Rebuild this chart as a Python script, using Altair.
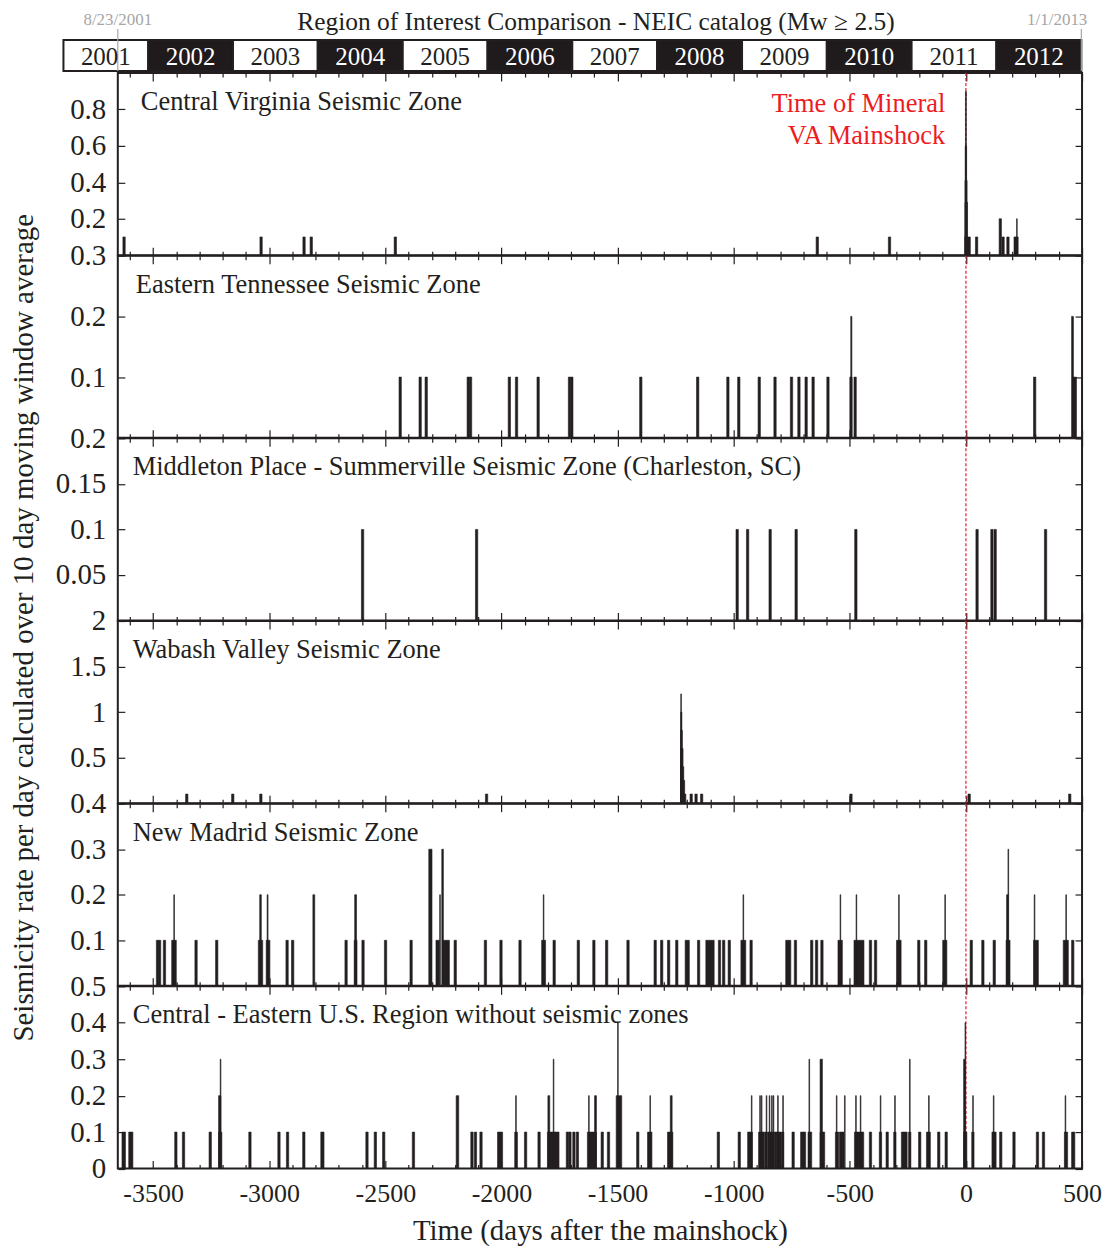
import datetime as dt
import altair as alt
import pandas as pd

FONT = "Liberation Serif"
INK = "#231f20"
RED = "#ed1c24"
GRAY = "#a6a6a6"

X_MIN, X_MAX = -3652, 500
PLOT_W = 966
PANEL_H = 182.5
BAR_H = 31
BAR_DAYS = 10

panel_names = [
    "Central Virginia Seismic Zone",
    "Eastern Tennessee Seismic Zone",
    "Middleton Place - Summerville Seismic Zone (Charleston, SC)",
    "Wabash Valley Seismic Zone",
    "New Madrid Seismic Zone",
    "Central - Eastern U.S. Region without seismic zones",
]
name_dx = [23, 18, 15, 15, 15, 15]
panel_ymax = [1.0, 0.3, 0.2, 2.0, 0.4, 0.5]
panel_yticks = [
    [0.2, 0.4, 0.6, 0.8],
    [0.1, 0.2, 0.3],
    [0.05, 0.1, 0.15, 0.2],
    [0.5, 1, 1.5, 2],
    [0.1, 0.2, 0.3, 0.4],
    [0, 0.1, 0.2, 0.3, 0.4, 0.5],
]
x_ticks = list(range(-3600, 501, 100))

# (start day, rate[, window width in days])
cv_bars = [
    (-3630, 0.1), (-3040, 0.1), (-2855, 0.1), (-2824, 0.1), (-2462, 0.1),
    (-645, 0.1), (-334, 0.1),
    (-2, 0.9, 4), (-3, 0.6, 6), (-4, 0.41, 9), (-4, 0.29, 11), (-5, 0.1, 24),
    (41, 0.1), (143, 0.2), (155, 0.1), (176, 0.1), (207, 0.1), (215, 0.1), (218, 0.2, 3),
]
et_bars = [
    (-2441, 0.1), (-2355, 0.1), (-2329, 0.1), (-2148, 0.1), (-2138, 0.1),
    (-1971, 0.1), (-1940, 0.1), (-1847, 0.1), (-1712, 0.1), (-1702, 0.1),
    (-1405, 0.1), (-1160, 0.1), (-1030, 0.1), (-983, 0.1), (-895, 0.1),
    (-827, 0.1), (-756, 0.1), (-724, 0.1), (-693, 0.1), (-663, 0.1),
    (-599, 0.1), (-500, 0.1), (-496, 0.2, 5), (-482, 0.1),
    (291, 0.1), (455, 0.2, 8), (460, 0.1, 16),
]
mp_bars = [
    (-2603, 0.1), (-2112, 0.1), (-990, 0.1), (-945, 0.1), (-848, 0.1),
    (-736, 0.1), (-479, 0.1), (43, 0.1), (107, 0.1), (121, 0.1), (338, 0.1),
]
wv_bars = [
    (-3360, 0.1), (-3162, 0.1), (-3041, 0.1), (-2069, 0.1),
    (-1228, 1.2, 3), (-1228, 1.0, 5), (-1228, 0.8, 7), (-1228, 0.6, 10),
    (-1228, 0.4, 13), (-1228, 0.25, 17), (-1228, 0.1, 22),
    (-1188, 0.1), (-1167, 0.1), (-1143, 0.1), (-500, 0.1), (9, 0.1), (442, 0.1),
]
nm_bars = [
    (-3486, 0.1), (-3477, 0.1), (-3456, 0.1), (-3420, 0.1), (-3410, 0.1), (-3411, 0.2, 3),
    (-3320, 0.1), (-3231, 0.1), (-3047, 0.1, 19), (-3041, 0.2, 7),
    (-3013, 0.1, 16), (-3009, 0.2, 4), (-2928, 0.1), (-2904, 0.1), (-2812, 0.2, 8),
    (-2674, 0.1), (-2634, 0.1, 12), (-2632, 0.2, 8), (-2601, 0.1), (-2504, 0.1),
    (-2394, 0.1), (-2313, 0.3, 14), (-2282, 0.1, 15), (-2266, 0.2, 3),
    (-2257, 0.3, 7), (-2253, 0.1, 29), (-2204, 0.1), (-2074, 0.1), (-2007, 0.1),
    (-1925, 0.1), (-1827, 0.1, 17), (-1820, 0.2, 3), (-1778, 0.1), (-1674, 0.1),
    (-1607, 0.1), (-1552, 0.1), (-1460, 0.1), (-1343, 0.1), (-1315, 0.1),
    (-1285, 0.1), (-1250, 0.1), (-1209, 0.1, 18), (-1156, 0.1), (-1120, 0.1, 36),
    (-1066, 0.1), (-1048, 0.1), (-1024, 0.1), (-969, 0.1, 21), (-960, 0.2, 3),
    (-930, 0.1), (-776, 0.1, 22), (-739, 0.1), (-669, 0.1), (-648, 0.1),
    (-625, 0.1), (-551, 0.1, 19), (-542, 0.2, 3), (-482, 0.1, 43), (-473, 0.2, 3),
    (-416, 0.1), (-394, 0.1), (-299, 0.1, 20), (-290, 0.2, 3), (-208, 0.1),
    (-178, 0.1), (-100, 0.1, 18), (-91, 0.2, 3), (18, 0.1), (68, 0.1), (117, 0.1),
    (173, 0.1, 17), (175, 0.2, 7), (181, 0.3, 3), (291, 0.1, 21), (294, 0.2, 3),
    (419, 0.1, 22), (430, 0.2, 3), (455, 0.1),
]
ce_bars = [
    (-3634, 0.1, 15), (-3605, 0.1, 18), (-3407, 0.1), (-3374, 0.1), (-3259, 0.1),
    (-3218, 0.1, 14), (-3218, 0.2, 10), (-3211, 0.3, 3), (-3088, 0.1), (-2963, 0.1),
    (-2926, 0.1), (-2856, 0.1), (-2778, 0.1, 14), (-2584, 0.1), (-2548, 0.1),
    (-2512, 0.1), (-2384, 0.1), (-2195, 0.2, 11), (-2132, 0.1), (-2117, 0.1),
    (-2093, 0.1), (-2017, 0.1, 22), (-1943, 0.1, 12), (-1939, 0.2, 3), (-1901, 0.1),
    (-1843, 0.1), (-1802, 0.1, 50), (-1800, 0.2, 8), (-1777, 0.3, 3), (-1721, 0.1),
    (-1710, 0.1), (-1693, 0.1), (-1678, 0.1), (-1630, 0.1, 39), (-1625, 0.2, 3),
    (-1599, 0.2, 8), (-1571, 0.1), (-1544, 0.1), (-1506, 0.2, 24), (-1500, 0.4, 3),
    (-1418, 0.1), (-1371, 0.1, 19), (-1361, 0.2, 3), (-1285, 0.1, 23), (-1273, 0.2, 8),
    (-1071, 0.1), (-981, 0.1), (-940, 0.1, 21), (-924, 0.2, 3), (-893, 0.1, 24),
    (-888, 0.2, 3), (-881, 0.2, 3), (-867, 0.1), (-855, 0.1), (-845, 0.1),
    (-835, 0.1), (-824, 0.1), (-815, 0.1), (-805, 0.1), (-794, 0.1),
    (-860, 0.2, 3), (-847, 0.2, 3), (-837, 0.2, 3), (-830, 0.2, 3), (-811, 0.2, 3),
    (-789, 0.2, 3), (-749, 0.1), (-712, 0.1, 22), (-680, 0.1), (-676, 0.3, 3),
    (-674, 0.1), (-628, 0.1, 20), (-628, 0.3, 10), (-562, 0.1, 14), (-558, 0.2, 3),
    (-545, 0.1, 20), (-523, 0.2, 3), (-480, 0.1, 40), (-475, 0.2, 3), (-455, 0.2, 3),
    (-416, 0.1), (-373, 0.1), (-369, 0.2, 3), (-344, 0.1), (-311, 0.1), (-307, 0.2, 3),
    (-278, 0.1, 25), (-247, 0.1), (-243, 0.3, 3), (-204, 0.1), (-170, 0.1, 17),
    (-161, 0.2, 3), (-122, 0.1), (-90, 0.1), (-10, 0.1, 14), (-10, 0.3, 6),
    (-4, 0.4, 3), (25, 0.1), (29, 0.2, 3), (112, 0.1, 18), (118, 0.2, 3),
    (145, 0.1), (202, 0.1), (303, 0.1), (329, 0.1), (424, 0.1, 14), (427, 0.2, 3),
    (455, 0.1, 14),
]
all_bars = [cv_bars, et_bars, mp_bars, wv_bars, nm_bars, ce_bars]

mainshock_day = [0]
mainshock_note = "Time of Mineral\nVA Mainshock"

# calendar bar
ref_date = dt.date(2011, 8, 23)
years = list(range(2001, 2013))
year_start = [(dt.date(y, 1, 1) - ref_date).days for y in years]
year_end = [(dt.date(y + 1, 1, 1) - ref_date).days for y in years]
month_ticks = []
for y in range(2001, 2014):
    for m in range(1, 13):
        d = dt.date(y, m, 1)
        if dt.date(2001, 9, 1) <= d <= dt.date(2013, 1, 1):
            month_ticks.append((d - ref_date).days)
range_dates = ["8/23/2001", "1/1/2013"]
range_days = [(dt.date(2001, 8, 23) - ref_date).days, (dt.date(2013, 1, 1) - ref_date).days]

X_TICK_EXPR = "datum.value % 500 === 0 ? -8 : -4"
Y_TICK_EXPR = "-7"
LABEL_FS = 29
XLABEL_FS = 26
NAME_FS = 26.5


def panel(i):
    rows = [(b[0], b[1], b[2] if len(b) > 2 else BAR_DAYS) for b in all_bars[i]]
    df = pd.DataFrame(rows, columns=["day", "rate", "w"])
    df["end"] = df["day"] + df["w"]
    last = i == len(all_bars) - 1
    xs = alt.Scale(domain=[X_MIN, X_MAX], nice=False, zero=False)
    ys = alt.Scale(domain=[0, panel_ymax[i]], nice=False, zero=True)

    bkw = dict(orient="bottom", values=x_ticks, tickSize={"expr": X_TICK_EXPR},
               labels=last, labelFlush=False, labelOverlap=False)
    if last:
        bkw.update(labelExpr="datum.value % 500 === 0 ? '' + datum.value : ''",
                   labelPadding=20, titlePadding=6, labelFontSize=XLABEL_FS)
    xtitle = "Time (days after the mainshock)" if last else None

    bars = alt.Chart(df).mark_rect(color=INK, stroke=INK, strokeWidth=0.6, clip=True).encode(
        x=alt.X("day:Q", scale=xs, axis=alt.Axis(**bkw), title=xtitle),
        x2="end:Q",
        y=alt.Y("rate:Q", scale=ys, title=None,
                axis=alt.Axis(orient="left", values=panel_yticks[i], format="~g",
                              tickSize={"expr": Y_TICK_EXPR}, labelPadding=19,
                              labelOverlap=False, labelFlush=False)),
        y2=alt.datum(0),
    )
    ghost = alt.Chart(df).mark_point(opacity=0).encode(
        x=alt.X("day:Q", scale=xs, title=None,
                axis=alt.Axis(orient="top", values=x_ticks, labels=False,
                              tickSize={"expr": X_TICK_EXPR})),
        y=alt.Y("rate:Q", scale=ys, title=None,
                axis=alt.Axis(orient="right", values=panel_yticks[i], labels=False,
                              tickSize={"expr": Y_TICK_EXPR})),
    )
    rule = alt.Chart(pd.DataFrame({"day": mainshock_day})).mark_rule(
        color=RED, strokeDash=[3, 2], strokeWidth=1.2
    ).encode(
        x=alt.X("day:Q", scale=xs, axis=None),
        y=alt.value(0), y2=alt.value(PANEL_H),
    )
    name = alt.Chart(pd.DataFrame({"t": [panel_names[i]]})).mark_text(
        align="left", baseline="middle", font=FONT, fontSize=NAME_FS, color=INK
    ).encode(x=alt.value(name_dx[i]), y=alt.value(29), text="t:N")
    layers = [rule, bars, ghost, name]
    if i == 0:
        note = alt.Chart(pd.DataFrame({"t": [mainshock_note]})).mark_text(
            align="right", baseline="middle", font=FONT, fontSize=NAME_FS, color=RED,
            lineBreak="\n", lineHeight=32
        ).encode(x=alt.value(829), y=alt.value(31), text="t:N")
        layers.append(note)
    return alt.layer(*layers).resolve_axis(x="independent", y="independent").properties(
        width=PLOT_W, height=PANEL_H
    )


# calendar strip
ydf = pd.DataFrame({"year": years, "start": year_start, "end": year_end})
ydf["mid"] = (ydf["start"] + ydf["end"]) / 2
ydf["dark"] = ydf["year"] % 2 == 0
ydf["label"] = ydf["year"].astype(str)
ys_cal = alt.Scale(domain=[X_MIN, X_MAX], nice=False, zero=False)
year_tick_expr = "indexof([" + ",".join(str(v) for v in year_start[1:] + [range_days[1]]) + "], datum.value) >= 0 ? 7 : 4"

boxes = alt.Chart(ydf).mark_rect(stroke=INK, strokeWidth=2).encode(
    x=alt.X("start:Q", scale=ys_cal, title=None,
            axis=alt.Axis(orient="top", values=month_ticks, labels=False, domain=False,
                          tickSize={"expr": year_tick_expr}, tickWidth=1)),
    x2="end:Q",
    y=alt.value(0), y2=alt.value(BAR_H),
    fill=alt.condition("datum.dark", alt.value("#1f1a1b"), alt.value("white")),
)
year_txt = alt.Chart(ydf).mark_text(font=FONT, fontSize=25, baseline="middle").encode(
    x=alt.X("mid:Q", scale=ys_cal, axis=None),
    y=alt.value(BAR_H / 2 + 1),
    text="label:N",
    color=alt.condition("datum.dark", alt.value("white"), alt.value(INK)),
)
rdf = pd.DataFrame({"day": range_days, "lab": range_dates})
gray_rules = alt.Chart(rdf).mark_rule(color=GRAY, strokeWidth=1.2).encode(
    x=alt.X("day:Q", scale=ys_cal, axis=None),
    y=alt.value(-11), y2=alt.value(BAR_H),
)
gray_left = alt.Chart(rdf.iloc[[0]]).mark_text(font=FONT, fontSize=17, color=GRAY, align="center",
                                              baseline="middle").encode(
    x=alt.X("day:Q", scale=ys_cal, axis=None), y=alt.value(-20), text="lab:N")
gray_right = alt.Chart(rdf.iloc[[1]]).mark_text(font=FONT, fontSize=17, color=GRAY, align="right",
                                               baseline="middle", dx=6).encode(
    x=alt.X("day:Q", scale=ys_cal, axis=None), y=alt.value(-20), text="lab:N")
title_txt = alt.Chart(pd.DataFrame({"t": ["Region of Interest Comparison - NEIC catalog (Mw \u2265 2.5)"]})).mark_text(
    font=FONT, fontSize=25.5, color=INK, align="center", baseline="middle"
).encode(x=alt.value(479), y=alt.value(-18), text="t:N")

calendar = alt.layer(boxes, gray_rules, year_txt, gray_left, gray_right, title_txt).properties(
    width=PLOT_W, height=BAR_H, view=alt.ViewBackground(stroke="transparent")
)

stack = alt.vconcat(*[panel(i) for i in range(6)], spacing=0, bounds="flush").resolve_scale(
    x="independent", y="independent")

chart = alt.vconcat(
    calendar, stack, spacing=2, bounds="flush",
    title=alt.TitleParams(
        "Seismicity rate per day calculated over 10 day moving window average",
        orient="left", anchor="middle", font=FONT, fontSize=29, fontWeight="normal",
        color=INK, offset=15,
    ),
).resolve_scale(x="independent", y="independent").properties(
    padding={"left": 2, "top": 0, "right": 0, "bottom": 0}
).configure_view(stroke=INK, strokeWidth=2).configure_axis(
    labelFont=FONT, labelFontSize=LABEL_FS, labelColor=INK, tickColor=INK, tickWidth=1.2,
    domain=False, grid=False, titleFont=FONT, titleFontSize=29, titleColor=INK,
    titleFontWeight="normal",
).configure_text(font=FONT)

chart.save("out.html", embed_options={"renderer": "svg", "actions": False})
